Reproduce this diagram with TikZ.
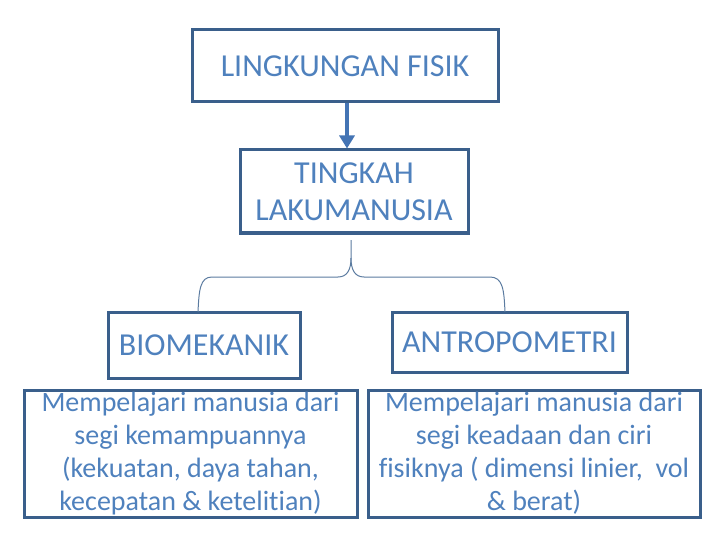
\documentclass[tikz,border=0pt]{standalone}
\usepackage{fontspec}
\setmainfont[Ligatures=NoCommon]{Carlito}
\usetikzlibrary{arrows.meta}
\definecolor{boxline}{HTML}{3A5F8B}
\definecolor{boxtext}{HTML}{4F81BD}
\definecolor{arrowcol}{HTML}{4474B4}
\definecolor{bracecol}{HTML}{5B7BA0}
\tikzset{
  kotak/.style={draw=boxline, line width=3pt, text=boxtext, inner sep=0pt, align=center},
  kecil/.style={font=\fontsize{28}{33}\selectfont},
  besar/.style={font=\fontsize{32}{37.5}\selectfont}
}
\begin{document}
\begin{tikzpicture}[x=1pt,y=1pt,yscale=-1,xscale=1]
\useasboundingbox (0,0) rectangle (720,540);

\node [kotak, besar, minimum width=306pt, minimum height=72pt] (fisik) at (345,66) {LINGKUNGAN FISIK};
\node [kotak, besar, minimum width=228pt, minimum height=83pt] (tingkah) at (354,191.5) {TINGKAH\\LAKUMANUSIA};

\node [kotak, besar, minimum width=192pt, minimum height=66pt] (bio) at (204,345) {BIOMEKANIK};
\node [kotak, besar, minimum width=235pt, minimum height=60pt] (antro) at (509.5,342) {ANTROPOMETRI};

\node [kotak, kecil, minimum width=333pt, minimum height=127pt] (biotext) at (190.5,453.5) {Mempelajari manusia dari\\segi kemampuannya\\(kekuatan, daya tahan,\\kecepatan \& ketelitian)};
\node [kotak, kecil, minimum width=332pt, minimum height=127pt] (antrotext) at (534,453.5) {Mempelajari manusia dari\\segi keadaan dan ciri\\fisiknya ( dimensi linier,\ \ vol\\\& berat)};

% panah
\draw [arrowcol, line width=4pt, -{Triangle[width=15pt,length=13pt]}] ([xshift=2pt]fisik.south) -- ([xshift=2pt]fisik.south |- tingkah.north);

% kurung kurawal
\coordinate (puncak) at (351,240);
\coordinate (kiri) at (198,312);
\coordinate (kanan) at (505,312);
\draw [bracecol, line width=1pt] (kiri) .. controls (199,290) and (200,277) .. (212,277) -- (338,277) .. controls (347,277) and (351,270) .. (351,258) -- (puncak);
\draw [bracecol, line width=1pt] (kanan) .. controls (504,290) and (503,277) .. (490,277) -- (364,277) .. controls (355,277) and (351,270) .. (351,258);

\end{tikzpicture}
\end{document}
